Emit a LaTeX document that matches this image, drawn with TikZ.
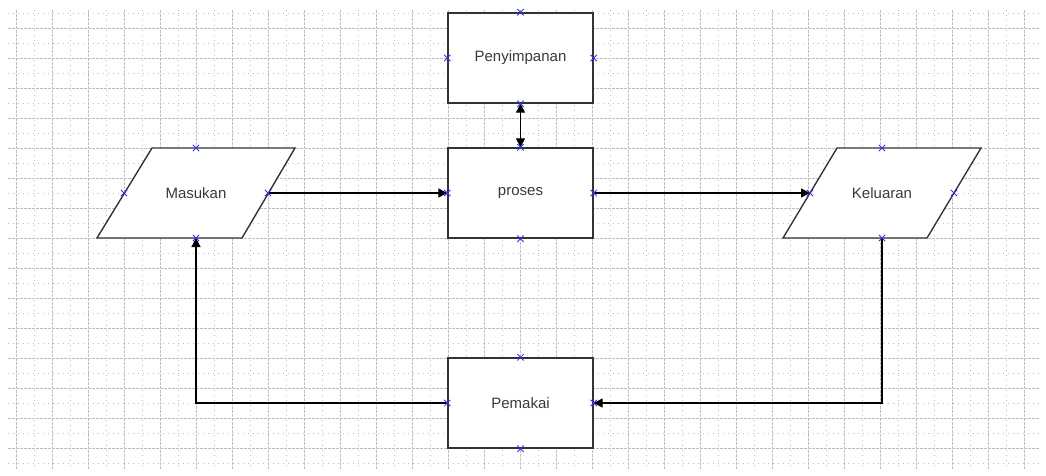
\documentclass[tikz,border=0pt]{standalone}
\usepackage{fontspec}
\setmainfont{Liberation Sans}
\usetikzlibrary{arrows.meta,calc}
\definecolor{gridc}{HTML}{BEBEBE}
\definecolor{shapec}{HTML}{333333}
\definecolor{textc}{HTML}{3A3A3A}
\definecolor{markc}{HTML}{3030F0}
\tikzset{
  majorgrid/.style={gridc, line width=0.9pt, dash pattern=on 2.5pt off 1.5pt},
  minorgrid/.style={gridc, line width=0.9pt, dash pattern=on 1pt off 4pt},
  boxshape/.style={draw=shapec, fill=white, line width=1.4pt, minimum width=145pt, minimum height=90pt, inner sep=0pt, font=\fontsize{15}{17}\selectfont, text=textc},
  lbl/.style={inner sep=0pt, font=\fontsize{15}{17}\selectfont, text=textc},
  para/.style={draw=shapec, fill=white, line width=1.4pt, line join=miter},
  conn/.style={draw=black, line width=1.3pt, -{Triangle[length=9pt,width=9pt]}},
  conn2/.style={draw=black, line width=1.3pt, {Triangle[length=9pt,width=9pt]}-{Triangle[length=9pt,width=9pt]}}
}
\newcommand{\xmark}[1]{\draw[markc, line width=0.8pt] ($(#1)+(-3.2,-3.2)$) -- ($(#1)+(3.2,3.2)$) ($(#1)+(-3.2,3.2)$) -- ($(#1)+(3.2,-3.2)$);}
\begin{document}
\begin{tikzpicture}[x=1pt,y=-1pt]
\useasboundingbox (0,0) rectangle (1046,475);
\fill[white] (0,0) rectangle (1046,475);
% grid
\foreach \k in {0,...,28} {
  \draw[majorgrid] ({16+36*\k},10) -- ({16+36*\k},470);
}
\foreach \k in {0,...,27} {
  \draw[minorgrid] ({34+36*\k},10) -- ({34+36*\k},470);
}
\foreach \k in {0,...,14} {
  \draw[majorgrid] (8,{28+30*\k}) -- (1040,{28+30*\k});
}
\foreach \k in {0,...,15} {
  \draw[minorgrid] (8,{13+30*\k}) -- (1040,{13+30*\k});
}
% rectangles
\node[boxshape] (pen) at (520.5,58) {Penyimpanan};
\node[boxshape] (pro) at (520.5,193) {proses};
\node[boxshape] (pem) at (520.5,403) {Pemakai};
% parallelograms
\draw[para] (97,238) -- (152,148) -- (295,148) -- (242,238) -- cycle;
\node[lbl] (mas) at (196,193) {Masukan};
\coordinate (masT) at (196,148);
\coordinate (masB) at (196,238);
\coordinate (masL) at (124,193);
\coordinate (masR) at (268,193);
\draw[para] (783,238) -- (837,148) -- (981,148) -- (927,238) -- cycle;
\node[lbl] (kel) at (882,193) {Keluaran};
\coordinate (kelT) at (882,148);
\coordinate (kelB) at (882,238);
\coordinate (kelL) at (810,193);
\coordinate (kelR) at (954,193);
% bends
\coordinate (bendR) at (882,403);
\coordinate (bendL) at (196,403);
% connectors
\draw[conn] (masR) -- (pro.west);
\draw[conn] (pro.east) -- (kelL);
\draw[conn2] (pen.south) -- (pro.north);
\draw[conn] (kelB) -- (bendR) -- (pem.east);
\draw[conn] (pem.west) -- (bendL) -- (masB);
% connection marks
\foreach \n in {pen,pro,pem} {
  \xmark{\n.north}
  \xmark{\n.south}
  \xmark{\n.east}
  \xmark{\n.west}
}
\foreach \c in {masT,masB,masL,masR,kelT,kelB,kelL,kelR} {
  \xmark{\c}
}
\end{tikzpicture}
\end{document}
